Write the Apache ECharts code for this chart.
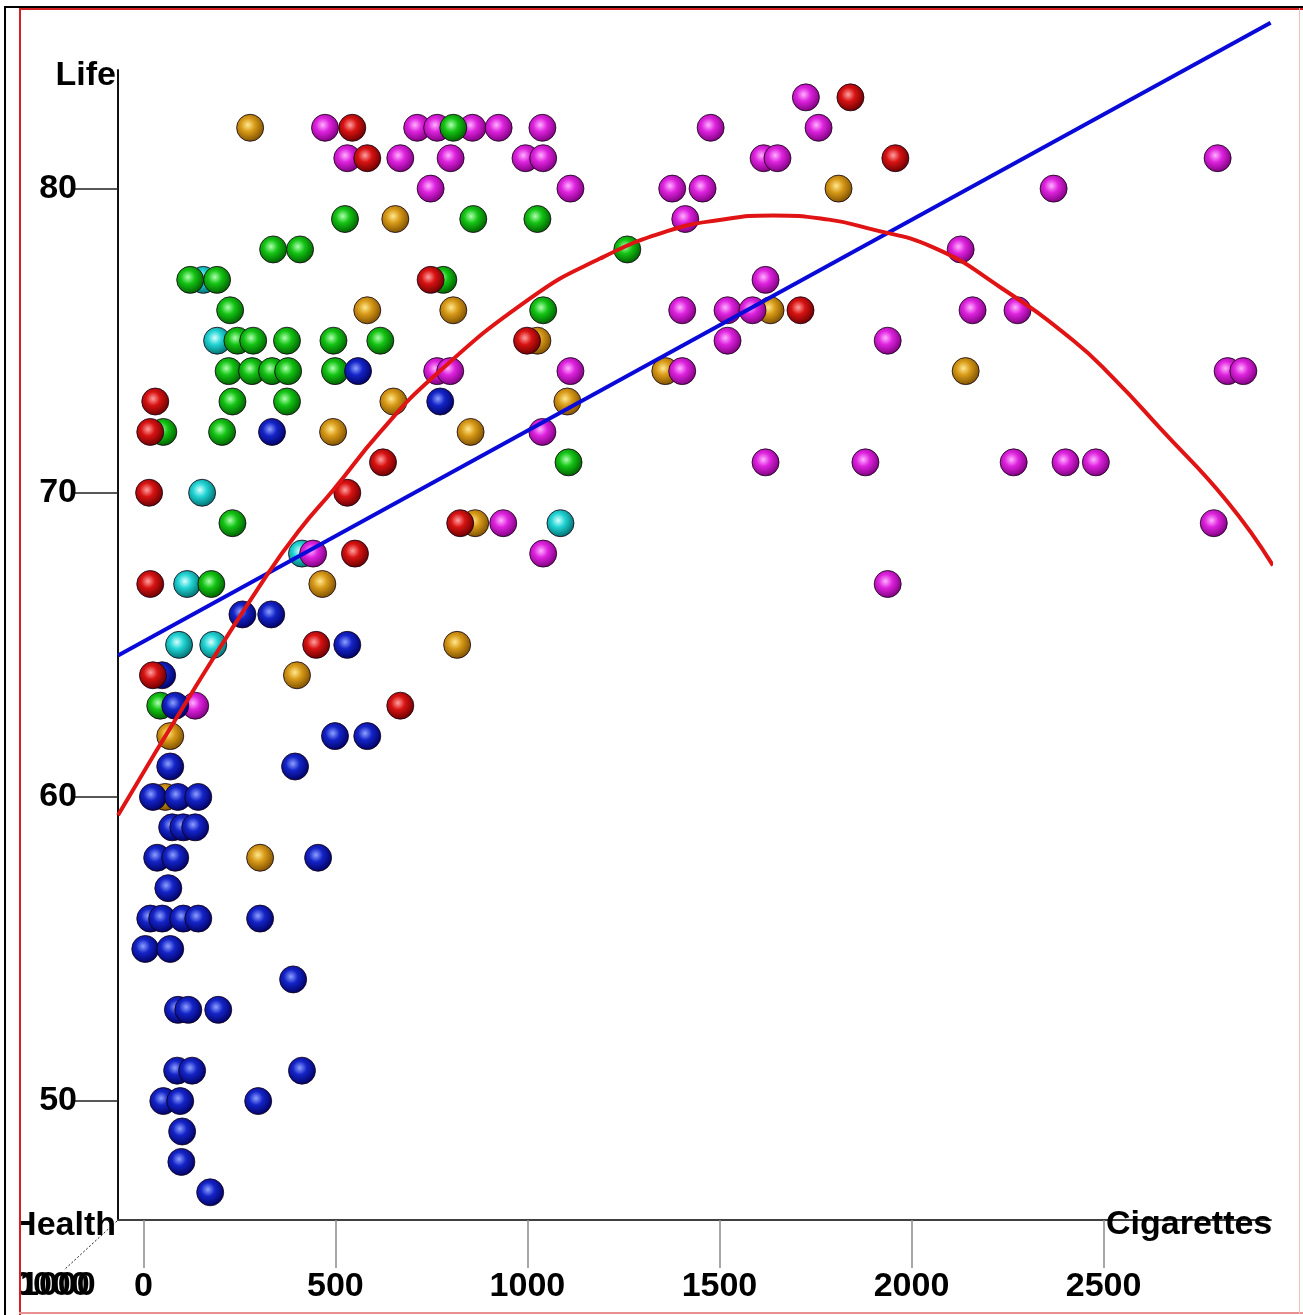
<!DOCTYPE html>
<html>
<head>
<meta charset="utf-8">
<title>Cigarettes vs Life</title>
<script src="https://cdn.jsdelivr.net/npm/echarts@6/dist/echarts.min.js"></script>
<style>
  html, body { margin: 0; padding: 0; background: #fff; }
  #chart { width: 1303px; height: 1315px; }
</style>
</head>
<body>
<div id="chart"></div>
<script>
// ---- data: cigarettes (x) and life expectancy (y) per colour group ----
const blueCig  = [559, 773, 335, 258, 333, 531, 49, 83, 499, 583, 70, 395, 25, 90, 143, 75, 104, 135, 36, 83, 455, 65, 18, 49, 104, 143, 304, 5, 70, 390, 90, 117, 195, 88, 127, 413, 52, 96, 299, 101, 99, 174];
const blueLife = [74, 73, 72, 66, 66, 65, 64, 63, 62, 62, 61, 61, 60, 60, 60, 59, 59, 59, 58, 58, 58, 57, 56, 56, 56, 56, 56, 55, 55, 54, 53, 53, 53, 51, 51, 51, 50, 50, 50, 49, 48, 47];

const greenCig  = [807, 525, 859, 1026, 338, 408, 1260, 122, 192, 781, 226, 1041, 245, 286, 374, 495, 617, 222, 283, 335, 377, 499, 232, 374, 52, 205, 1107, 232, 177, 44];
const greenLife = [82, 79, 79, 79, 78, 78, 78, 77, 77, 77, 76, 76, 75, 75, 75, 75, 75, 74, 74, 74, 74, 74, 73, 73, 72, 72, 71, 69, 67, 63];

const cyanCig  = [156, 192, 153, 1086, 413, 114, 93, 182];
const cyanLife = [77, 75, 70, 69, 68, 67, 65, 65];

const redCig  = [1841, 544, 583, 1958, 748, 1711, 999, 31, 18, 624, 15, 531, 825, 551, 18, 450, 25, 669];
const redLife = [83, 82, 81, 81, 77, 76, 75, 73, 72, 71, 70, 70, 69, 68, 67, 65, 64, 63];

const goldCig  = [278, 1810, 656, 583, 807, 1633, 1026, 1359, 2141, 651, 1104, 494, 852, 864, 466, 817, 400, 70, 57, 304];
const goldLife = [82, 80, 79, 76, 76, 76, 75, 74, 74, 73, 73, 72, 72, 69, 67, 65, 64, 62, 60, 58];

const magentaCig  = [1725, 473, 713, 765, 857, 925, 1039, 1477, 1758, 531, 669, 800, 995, 1041, 1615, 1651, 2797, 748, 1112, 1377, 1456, 2370, 1411, 2128, 1620, 1403, 1521, 1586, 2159, 2276, 1521, 1938, 765, 799, 1112, 1403, 2823, 2864, 1039, 1620, 1880, 2266, 2401, 2480, 937, 2787, 442, 1041, 1938, 135];
const magentaLife = [83, 82, 82, 82, 82, 82, 82, 82, 82, 81, 81, 81, 81, 81, 81, 81, 81, 80, 80, 80, 80, 80, 79, 78, 77, 76, 76, 76, 76, 76, 75, 75, 74, 74, 74, 74, 74, 74, 72, 71, 71, 71, 71, 71, 69, 69, 68, 68, 67, 63];

// fitted lines as drawn in the picture
const linearFitCig  = [-66, 2935];
const linearFitLife = [64.65, 85.45];
const quadFitCig  = [-66, 130, 322, 408, 495, 617, 754, 1008, 1189, 1364, 1500, 1640, 1785, 1885, 2058, 2232, 2422, 2527, 2649, 2823, 2941];
const quadFitLife = [59.4, 63.5, 67.3, 68.8, 70.1, 72.0, 73.8, 76.4, 77.7, 78.6, 78.97, 79.12, 78.98, 78.7, 78.06, 76.75, 75.0, 73.75, 72.1, 69.7, 67.61];

// axis ticks
const xTicks = [0, 500, 1000, 1500, 2000, 2500];
const yTicks = [50, 60, 70, 80];

const FONT = '"Liberation Sans", Arial, sans-serif';

function pairs(xs, ys) {
  return xs.map((x, i) => [x, ys[i]]);
}

// shaded ball look
function ball(light, mid, dark) {
  return {
    type: 'radial', x: 0.42, y: 0.4, r: 0.62,
    colorStops: [
      { offset: 0, color: light },
      { offset: 0.4, color: mid },
      { offset: 1, color: dark }
    ]
  };
}

function balls(name, xs, ys, fill) {
  return {
    name: name,
    type: 'scatter',
    symbol: 'circle',
    symbolSize: 27,
    data: pairs(xs, ys),
    itemStyle: { color: fill, borderColor: 'rgba(20,0,20,0.8)', borderWidth: 1, opacity: 1 },
    emphasis: { disabled: true },
    z: 3
  };
}

function txt(text, x, y, align) {
  return {
    type: 'text', z: 20,
    style: {
      text: text, x: x, y: y, fill: '#000',
      font: 'bold 34px ' + FONT,
      align: align, textAlign: align,
      verticalAlign: 'middle', textVerticalAlign: 'middle'
    }
  };
}

function rect(x, y, w, h, color, z) {
  return { type: 'rect', z: z || 30, shape: { x: x, y: y, width: w, height: h }, style: { fill: color } };
}

const chart = echarts.init(document.getElementById('chart'));

chart.setOption({
  backgroundColor: '#fff',
  animation: false,
  grid: { left: 118, right: 32, top: 70, bottom: 95 },
  xAxis: {
    type: 'value',
    min: -66,
    max: 2936,
    axisLine: { show: true, onZero: false, lineStyle: { color: '#404040', width: 2 } },
    axisTick: { show: true, customValues: xTicks, length: 48, lineStyle: { color: '#8a8a8a', width: 1.5 } },
    axisLabel: {
      customValues: xTicks, margin: 50, color: '#000', fontSize: 34, fontWeight: 'bold', fontFamily: FONT,
      formatter: v => String(v)
    },
    splitLine: { show: false }
  },
  yAxis: {
    type: 'value',
    min: 46.09,
    max: 83.9,
    axisLine: { show: true, onZero: false, lineStyle: { color: '#111', width: 2 } },
    axisTick: { show: true, customValues: yTicks, length: 45, lineStyle: { color: '#222', width: 1.5 } },
    axisLabel: { customValues: yTicks, margin: 41, color: '#000', fontSize: 34, fontWeight: 'bold', fontFamily: FONT, padding: [6, 0, 0, 0] },
    splitLine: { show: false }
  },
  series: [
    balls('gold', goldCig, goldLife, ball('#ffe890', '#d89a18', '#7a4e00')),
    balls('cyan', cyanCig, cyanLife, ball('#d8ffff', '#22d4d4', '#006a6a')),
    balls('magenta', magentaCig, magentaLife, ball('#ffb0ff', '#de22de', '#7a007a')),
    balls('green', greenCig, greenLife, ball('#b0ffb0', '#14c414', '#005a00')),
    balls('blue', blueCig, blueLife, ball('#8da0ff', '#1424c8', '#00005e')),
    balls('red', redCig, redLife, ball('#ffa0a0', '#d81212', '#640000')),
    {
      name: 'linear',
      type: 'line',
      data: pairs(linearFitCig, linearFitLife),
      showSymbol: false,
      clip: false,
      lineStyle: { color: '#0a0ad8', width: 4 },
      emphasis: { disabled: true },
      z: 5
    },
    {
      name: 'quadratic',
      type: 'line',
      data: pairs(quadFitCig, quadFitLife),
      smooth: 0.5,
      showSymbol: false,
      clip: false,
      lineStyle: { color: '#e01414', width: 4 },
      emphasis: { disabled: true },
      z: 5
    }
  ],
  graphic: [
    // axis names
    txt('Life', 116, 76, 'right'),
    txt('Cigarettes', 1106, 1225, 'left'),
    txt('Health', 116, 1226, 'right'),
    // collapsed third axis (Health) and its overlapping labels
    {
      type: 'line', z: 19,
      shape: { x1: 117, y1: 1221, x2: 64, y2: 1270 },
      style: { stroke: '#222', lineWidth: 1, lineDash: [2, 2] }
    },
    txt('0000', 14, 1286, 'left'),
    txt('1000', 20, 1286, 'left'),
    // frame: white margin, black outer line, red inner line
    rect(0, 0, 19, 1315, '#fff', 28),
    rect(0, 0, 1303, 8, '#fff', 28),
    rect(4, 6, 2, 1309, '#000'),
    rect(4, 6, 1299, 2, '#000'),
    rect(19, 8, 2, 1307, '#d42020'),
    rect(19, 8, 1284, 2, '#d42020'),
    rect(19, 1312, 1284, 2, '#e89090'),
    rect(1299, 8, 1, 1306, '#f0c0c0')
  ]
});
</script>
</body>
</html>
